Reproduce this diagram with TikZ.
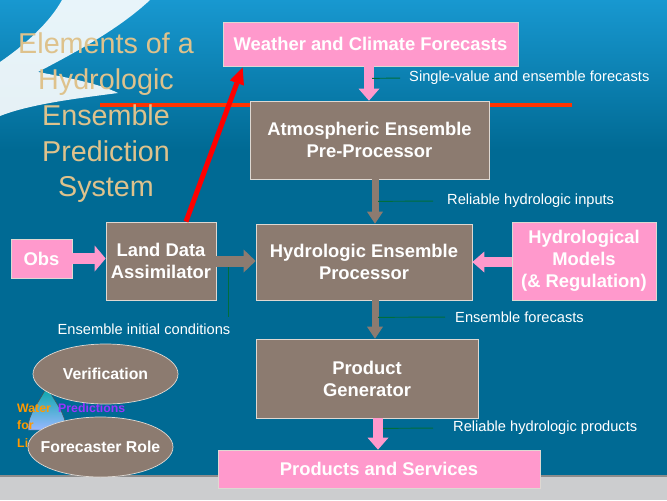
\documentclass[tikz,border=0pt]{standalone}
\usepackage{fontspec}
\setmainfont{Liberation Sans}
\usepackage{tikz}
\usetikzlibrary{arrows.meta,shapes.geometric,calc}

\definecolor{bgblue}{RGB}{0,106,148}
\definecolor{skyblue}{RGB}{24,152,208}
\definecolor{boxpink}{RGB}{255,153,204}
\definecolor{boxbrown}{RGB}{140,123,112}
\definecolor{boxline}{RGB}{222,216,210}
\definecolor{titletan}{RGB}{222,194,140}
\definecolor{callgreen}{RGB}{0,110,60}
\definecolor{redline}{RGB}{255,51,0}
\definecolor{stripgray}{RGB}{204,205,207}
\definecolor{logoorange}{RGB}{255,153,0}
\definecolor{logopurple}{RGB}{153,51,255}

\begin{document}
\begin{tikzpicture}[x=0.03cm, y=-0.03cm,
            box/.style={rectangle, draw=boxline, line width=0.6pt, text=white, align=center, inner sep=0pt, font=\fontsize{15.7}{18.8}\selectfont\bfseries},
            pinkbox/.style={box, fill=boxpink},
            brownbox/.style={box, fill=boxbrown},
            oval/.style={ellipse, draw=boxline, line width=0.6pt, fill=boxbrown, text=white, inner sep=0pt, minimum width=4.35cm, minimum height=1.8cm, font=\fontsize{13.5}{16}\selectfont\bfseries},
            pinkarrow/.style={draw=boxpink, line width=0.3cm, -{Triangle[width=0.63cm,length=0.36cm,line width=0pt]}},
            bigpinkarrow/.style={draw=boxpink, line width=0.33cm, -{Triangle[width=0.78cm,length=0.33cm,line width=0pt]}},
            brownarrow/.style={draw=boxbrown, line width=0.21cm, -{Triangle[width=0.48cm,length=0.36cm,line width=0pt]}},
            bigbrownarrow/.style={draw=boxbrown, line width=0.33cm, -{Triangle[width=0.69cm,length=0.36cm,line width=0pt]}},
            callout/.style={draw=callgreen, line width=0.8pt},
            note/.style={text=white, inner sep=0pt, font=\fontsize{12.5}{14}\selectfont},
            logo/.style={anchor=west, inner sep=0pt, font=\fontsize{10.5}{12}\selectfont\bfseries}]
            \useasboundingbox (0,0) rectangle (667,500);
            % background
            \fill[bgblue] (0,0) rectangle (667,476);
            \shade[top color=skyblue, bottom color=bgblue] (0,0) rectangle (667,150);
            \fill[white, opacity=0.9] (62,0) -- (150,0) .. controls (120,28) and (80,50) .. (38,72) .. controls (70,78) and (100,84) .. (118,93) .. controls (80,98) and (30,104) .. (0,116) -- (0,62) .. controls (25,45) and (50,22) .. (62,0) -- cycle;
            \draw[redline, line width=0.12cm] (100,105) -- (572,105);
            \fill[stripgray] (0,476) rectangle (667,500);
            \draw[black!45, line width=1.2pt] (0,476) -- (667,476);
            \node[text=titletan, align=center, font=\fontsize{24.5}{30.5}\selectfont] (Title) at (106,118) {Elements of a\\Hydrologic\\Ensemble\\Prediction\\System};
            % logo behind the ovals
            \shade[top color=teal!70!cyan, bottom color=cyan!30!blue!40, draw=black!70, line width=0.4pt] (47,386) .. controls (40,402) and (28,412) .. (28,430) -- (66,430) .. controls (66,412) and (54,402) .. (47,386) -- cycle;
            \node[logo, text=logoorange] (Wat) at (17,408) {Water};
            \node[logo, text=logopurple] (Pred) at (58,408) {Predictions};
            \node[logo, text=logoorange] (For) at (17,425) {for};
            \node[logo, text=logoorange] (Li) at (17,443) {Li};
            \node[oval] (Ver) at (105.5,374) {Verification};
            \node[oval, inner xsep=-0.36cm] (Fr) at (100.5,447) {Forecaster Role};
            % boxes
            \node[pinkbox, minimum width=8.85cm, minimum height=1.32cm] (Wcf) at (370.5,44) {Weather and Climate Forecasts};
            \node[brownbox, minimum width=7.17cm, minimum height=2.34cm] (Atm) at (369.5,140) {Atmospheric Ensemble\\Pre-Processor};
            \node[brownbox, minimum width=3.3cm, minimum height=2.34cm] (Lda) at (161,261) {Land Data\\Assimilator};
            \node[brownbox, minimum width=6.48cm, minimum height=2.28cm] (Hep) at (364,262) {Hydrologic Ensemble\\Processor};
            \node[pinkbox, minimum width=4.32cm, minimum height=2.34cm] (Hyd) at (584,261) {Hydrological\\Models\\(\& Regulation)};
            \node[pinkbox, minimum width=1.83cm, minimum height=1.17cm] (Obs) at (41.5,258.5) {Obs};
            \node[brownbox, minimum width=6.66cm, minimum height=2.37cm] (Pg) at (367,378.5) {Product\\Generator};
            \node[pinkbox, minimum width=9.66cm, minimum height=1.14cm] (Ps) at (379,469) {Products and Services};
            % block arrows
            \draw[pinkarrow] ($(Wcf.south)+(-1.5,0)$) -- ($(Atm.north)+(-0.5,0)$);
            \draw[brownarrow] ($(Atm.south)+(5.5,0)$) -- ($(Hep.north)+(11,0)$);
            \draw[brownarrow] ($(Hep.south)+(11,0)$) -- ($(Pg.north)+(8,0)$);
            \draw[pinkarrow] ($(Pg.south)+(11,0)$) -- ($(Ps.north)+(-1,0)$);
            \draw[bigpinkarrow] (Obs.east) -- (Obs.east -| Lda.west);
            \draw[bigbrownarrow] (Lda.east) -- (Lda.east -| Hep.west);
            \draw[pinkarrow] ($(Hyd.west)+(0,1)$) -- (Hep.east);
            % callouts
            \coordinate (Sv) at ($(Wcf.south)+(1.5,12)$);
            \coordinate (Ri) at ($(Atm.south)+(8.5,22)$);
            \coordinate (Ef) at ($(Hep.south)+(14,17)$);
            \coordinate (Rp) at ($(Pg.south)+(16,10)$);
            \coordinate (Ic) at ($(Lda.east)+(12,6)$);
            \node[note, anchor=west] (SvLbl) at (409,78) {Single-value and ensemble forecasts};
            \node[note, anchor=west] (RiLbl) at (447,201) {Reliable hydrologic inputs};
            \node[note, anchor=west] (EfLbl) at (455,317) {Ensemble forecasts};
            \node[note, anchor=west] (RpLbl) at (453,428) {Reliable hydrologic products};
            \node[note] (IcLbl) at (144,329) {Ensemble initial conditions};
            \draw[callout, shorten >=0.27cm] (Sv) -- (SvLbl.west);
            \draw[callout, shorten >=0.42cm] (Ri) -- (RiLbl.west);
            \draw[callout, shorten >=0.3cm] (Ef) -- (EfLbl.west);
            \draw[callout, shorten >=0.6cm] (Rp) -- (RpLbl.west);
            \draw[callout, shorten >=0.18cm] (Ic) -- (Ic |- IcLbl.north);
            % red arrow
            \draw[red, line width=0.15cm, -{Triangle[width=0.45cm,length=0.5cm,line width=0pt]}] ($(Lda.north)+(25,0)$) -- ($(Wcf.south west)+(20,1)$);
        \end{tikzpicture}
\end{document}
